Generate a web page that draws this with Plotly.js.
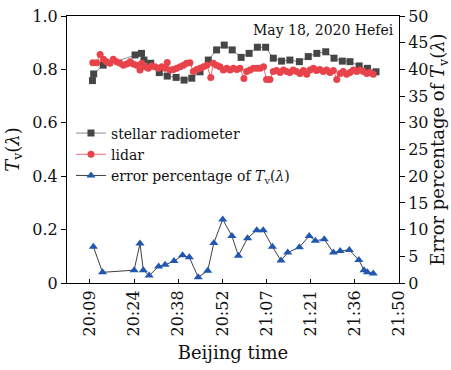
<!DOCTYPE html>
<html>
<head>
<meta charset="utf-8">
<script src="https://cdn.plot.ly/plotly-3.0.1.min.js"></script>
<style>html,body{margin:0;padding:0;background:#fff;}#chart{width:451px;height:370px;}</style>
</head>
<body>
<div id="chart"></div>
<script>
// Minutes after 20:00 (Beijing time)
const radTime = [10.4,10.8,13.9,24.3,26.4,27.2,29.4,32.2,34.8,37.7,40.3,42.8,45.5,48.2,50.9,53.4,56.0,58.9,61.5,64.2,66.9,69.4,72.1,74.8,77.9,80.8,83.6,86.5,89.2,91.9,94.4,97.4,100.1,102.9];
const radT = [0.758,0.783,0.816,0.854,0.860,0.835,0.823,0.788,0.775,0.770,0.760,0.767,0.791,0.835,0.873,0.891,0.873,0.845,0.860,0.883,0.883,0.842,0.831,0.835,0.829,0.848,0.860,0.866,0.842,0.831,0.829,0.813,0.804,0.791];

const lidarTime = [10.5,11.8,12.9,14.0,15.0,16.1,17.2,18.3,19.4,20.5,21.6,22.7,23.7,24.8,25.9,26.5,27.5,28.6,29.7,30.8,31.9,33.0,34.1,34.8,35.7,36.8,37.9,39.0,40.1,41.1,42.2,43.3,44.4,45.5,46.6,47.7,49.0,49.8,50.9,52.0,53.1,54.2,55.3,56.4,57.5,58.5,59.8,60.7,61.8,62.9,64.0,65.1,66.2,67.2,68.3,69.4,70.5,71.6,72.7,73.8,74.8,75.9,77.0,78.1,79.2,80.3,81.4,82.5,83.5,84.6,85.7,86.8,87.9,89.0,90.1,91.2,92.2,93.3,94.4,95.5,96.6,97.7,98.8,99.9,100.9,102.0];
const lidarT = [0.825,0.825,0.856,0.838,0.829,0.823,0.838,0.829,0.823,0.816,0.820,0.829,0.820,0.816,0.798,0.823,0.810,0.804,0.813,0.810,0.804,0.810,0.804,0.826,0.798,0.800,0.804,0.810,0.816,0.823,0.825,0.792,0.800,0.804,0.810,0.816,0.770,0.823,0.816,0.810,0.798,0.804,0.798,0.804,0.800,0.804,0.766,0.792,0.798,0.804,0.804,0.804,0.810,0.762,0.762,0.792,0.796,0.788,0.798,0.792,0.788,0.798,0.792,0.785,0.796,0.782,0.798,0.804,0.796,0.800,0.792,0.798,0.788,0.796,0.762,0.785,0.792,0.782,0.788,0.798,0.792,0.798,0.792,0.785,0.788,0.782];

const errTime = [10.7,13.7,24.0,25.9,27.0,28.9,32.0,34.1,37.0,39.8,42.0,44.9,48.0,50.0,52.9,55.9,58.0,61.0,64.0,66.1,69.1,71.9,74.1,77.9,81.1,83.1,86.0,89.0,91.2,94.2,97.3,99.0,100.1,102.0];
const errPct = [6.8,2.0,2.4,7.4,2.4,1.4,3.1,3.4,4.1,5.2,4.8,1.1,2.3,7.5,11.9,8.8,5.1,8.4,9.9,9.9,6.8,4.2,5.7,6.7,8.8,7.9,8.2,5.7,6.0,6.2,4.3,2.4,2.0,1.8];

const timeTickVals = [9.6,24.0,38.4,52.8,67.2,81.6,96.0,110.4];
const timeTickText = ['20:09','20:24','20:38','20:52','21:07','21:21','21:36','21:50'];
const leftTickVals = [0,0.2,0.4,0.6,0.8,1.0];
const leftTickText = ['0','0.2','0.4','0.6','0.8','1.0'];

const FONT = 'DejaVu Serif, Liberation Serif, serif';

const traces = [
  {x: radTime, y: radT, name: 'stellar radiometer', mode: 'lines+markers',
   line: {color: '#8a8a8a', width: 1}, marker: {symbol: 'square', size: 7, color: '#464646'}},
  {x: lidarTime, y: lidarT, name: 'lidar', mode: 'lines+markers',
   line: {color: '#ee6a70', width: 1}, marker: {symbol: 'circle', size: 7, color: '#e8434b'}},
  {x: errTime, y: errPct, name: 'error percentage of <i>T</i><sub>v</sub>(<i>λ</i>)', mode: 'lines+markers', yaxis: 'y2',
   line: {color: '#404040', width: 1}, marker: {symbol: 'triangle-up', size: 8, color: '#2157b0'}}
];

const layout = {
  width: 451, height: 370,
  margin: {l: 67, r: 52, t: 16, b: 87},
  paper_bgcolor: '#fff', plot_bgcolor: '#fff',
  font: {family: FONT, size: 16, color: '#111'},
  showlegend: true,
  legend: {x: 0.012, y: 0.62, xanchor: 'left', yanchor: 'top', bgcolor: 'rgba(0,0,0,0)',
    font: {family: FONT, size: 14, color: '#111'}, tracegroupgap: 0, itemwidth: 30},
  xaxis: {range: [2.1, 110.4], tickvals: timeTickVals, ticktext: timeTickText, tickangle: -90,
    ticks: 'inside', ticklen: 4, tickcolor: '#000', showline: true, linecolor: '#000', linewidth: 1,
    mirror: true, showgrid: false, zeroline: false, tickfont: {size: 16},
    title: {text: 'Beijing time', font: {size: 18}, standoff: 10}},
  yaxis: {range: [0, 1.0], tickvals: leftTickVals, ticktext: leftTickText,
    ticks: 'outside', ticklen: 5, tickcolor: '#000', showline: true, linecolor: '#000', linewidth: 1,
    showgrid: false, zeroline: false, tickfont: {size: 16},
    title: {text: '<i>T</i><sub>v</sub>(<i>λ</i>)', font: {size: 18}, standoff: 8}},
  yaxis2: {range: [0, 50], dtick: 5, overlaying: 'y', side: 'right',
    ticks: 'outside', ticklen: 5, tickcolor: '#000', showline: true, linecolor: '#000', linewidth: 1,
    showgrid: false, zeroline: false, tickfont: {size: 16},
    title: {text: 'Error percentage of <i>T</i><sub>v</sub>(<i>λ</i>)', font: {size: 18}, standoff: 6}},
  annotations: [{xref: 'paper', yref: 'paper', x: 0.99, y: 0.985, xanchor: 'right', yanchor: 'top',
    text: 'May 18, 2020 Hefei', showarrow: false, font: {family: FONT, size: 14, color: '#111'}}]
};

Plotly.newPlot('chart', traces, layout, {displayModeBar: false, staticPlot: true});
</script>
</body>
</html>
